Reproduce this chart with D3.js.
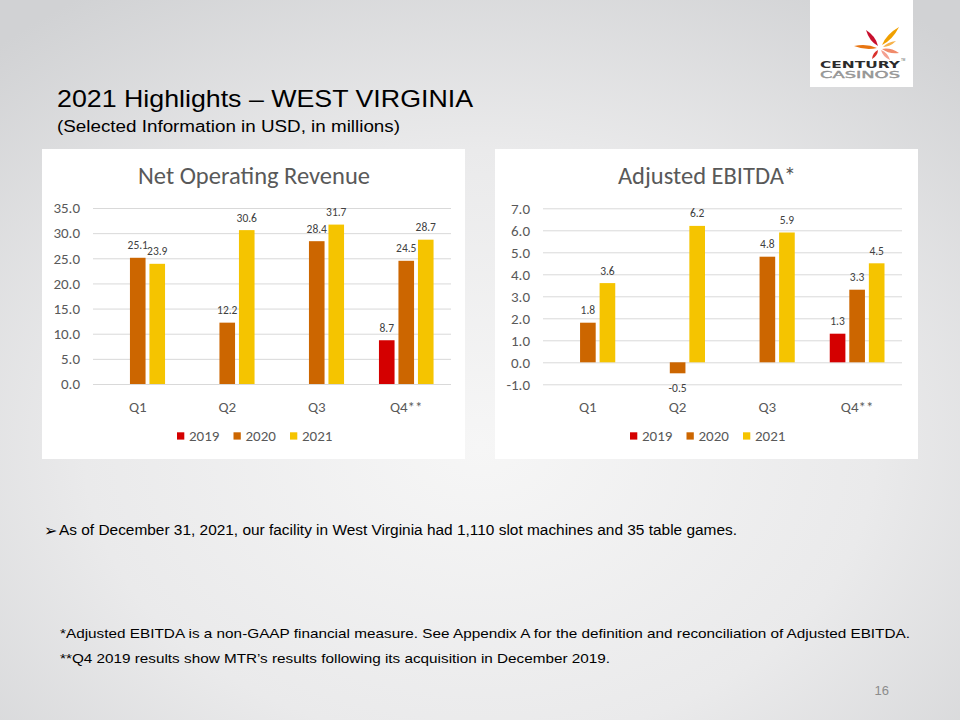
<!DOCTYPE html>
<html>
<head>
<meta charset="utf-8">
<script src="https://cdn.jsdelivr.net/npm/d3@7"></script>
<style>
  html, body { margin: 0; padding: 0; background: #e6e7e8; }
  svg { display: block; }
</style>
</head>
<body>
<svg id="slide" width="960" height="720"></svg>
<script>
// ---------- DATA ----------
const quarters = ["Q1", "Q2", "Q3", "Q4**"];
const seriesNames = ["2019", "2020", "2021"];
const revenue2019 = [null, null, null, 8.7];
const revenue2020 = [25.1, 12.2, 28.4, 24.5];
const revenue2021 = [23.9, 30.6, 31.7, 28.7];
const ebitda2019 = [null, null, null, 1.3];
const ebitda2020 = [1.8, -0.5, 4.8, 3.3];
const ebitda2021 = [3.6, 6.2, 5.9, 4.5];
const revenueTicks = [0, 5, 10, 15, 20, 25, 30, 35];
const ebitdaTicks = [-1, 0, 1, 2, 3, 4, 5, 6, 7];
const seriesColors = ["#d40000", "#cc6600", "#f5c400"];

const svg = d3.select("#slide");
const fmt = d => d.toFixed(1);

// ---------- BACKGROUND ----------
const defs = svg.append("defs");
const rg = defs.append("radialGradient").attr("id", "bg")
  .attr("cx", "0.5").attr("cy", "0.62").attr("r", "0.75");
rg.append("stop").attr("offset", "0").attr("stop-color", "#f6f6f6");
rg.append("stop").attr("offset", "0.55").attr("stop-color", "#eaeaeb");
rg.append("stop").attr("offset", "1").attr("stop-color", "#d1d2d4");
svg.append("rect").attr("width", 960).attr("height", 720).attr("fill", "url(#bg)");

// ---------- LOGO ----------
const logo = svg.append("g");
logo.append("rect").attr("x", 810).attr("y", 0).attr("width", 103).attr("height", 87).attr("fill", "#ffffff");
const petals = [
  { x1: 878, y1: 46, x2: 866, y2: 30, w: 4.2, c: "#c8102e" },
  { x1: 882, y1: 45, x2: 899, y2: 27, w: 4.2, c: "#f0a000" },
  { x1: 877, y1: 48, x2: 854, y2: 46, w: 3.8, c: "#e87511" },
  { x1: 882, y1: 49, x2: 899, y2: 53, w: 3.6, c: "#f08a6a" },
  { x1: 881, y1: 50, x2: 890, y2: 60, w: 3.2, c: "#f4a090" },
  { x1: 878, y1: 50, x2: 872, y2: 59, w: 3.0, c: "#d9302a" },
  { x1: 883, y1: 47, x2: 896, y2: 41, w: 2.8, c: "#f6b24a" }
];
petals.forEach(p => {
  const dx = p.x2 - p.x1, dy = p.y2 - p.y1;
  const len = Math.sqrt(dx * dx + dy * dy);
  const ang = Math.atan2(dy, dx) * 180 / Math.PI;
  logo.append("path")
    .attr("transform", `translate(${p.x1},${p.y1}) rotate(${ang})`)
    .attr("d", `M0,0 Q${len * 0.45},${-p.w} ${len},0 Q${len * 0.45},${p.w} 0,0 Z`)
    .attr("fill", p.c);
});
logo.append("text").attr("x", 860).attr("y", 67.5).attr("text-anchor", "middle")
  .attr("font-family", "'DejaVu Sans', sans-serif").attr("font-weight", "bold")
  .attr("font-size", 8.5).attr("textLength", 80).attr("lengthAdjust", "spacingAndGlyphs")
  .attr("fill", "#2b2b2b").text("CENTURY");
logo.append("text").attr("x", 901).attr("y", 61).attr("font-family", "'Liberation Sans', sans-serif")
  .attr("font-size", 3).attr("fill", "#555").text("TM");
logo.append("text").attr("x", 860).attr("y", 77.5).attr("text-anchor", "middle")
  .attr("font-family", "'DejaVu Sans', sans-serif")
  .attr("font-size", 8.5).attr("textLength", 80).attr("lengthAdjust", "spacingAndGlyphs")
  .attr("fill", "#a0a0a0").attr("stroke", "#8a8a8a").attr("stroke-width", 0.3).text("CASINOS");

// ---------- HEADINGS ----------
svg.append("text").attr("x", 57).attr("y", 107)
  .attr("font-family", "'Liberation Sans', Arial, sans-serif").attr("font-size", 24)
  .attr("textLength", 416).attr("lengthAdjust", "spacingAndGlyphs")
  .attr("fill", "#000").text("2021 Highlights – WEST VIRGINIA");
svg.append("text").attr("x", 57).attr("y", 132)
  .attr("font-family", "'Liberation Sans', Arial, sans-serif").attr("font-size", 16)
  .attr("textLength", 343).attr("lengthAdjust", "spacingAndGlyphs")
  .attr("fill", "#000").text("(Selected Information in USD, in millions)");

// ---------- CHART FUNCTION ----------
const chartFont = "Carlito, Calibri, Lato, 'Noto Sans', sans-serif";

function drawChart(opt) {
  const g = svg.append("g");
  g.append("rect").attr("x", opt.px).attr("y", opt.py).attr("width", 423).attr("height", 310)
    .attr("fill", "#ffffff");

  g.append("text").attr("x", opt.px + opt.titleX).attr("y", opt.py + 35)
    .attr("text-anchor", "middle").attr("font-family", chartFont).attr("font-size", 24.5)
    .attr("fill", "#595959").text(opt.title);

  const x0 = d3.scaleBand().domain(quarters).range([opt.x0, opt.x1]).paddingInner(0).paddingOuter(0);
  const bw = x0.bandwidth();
  const groupW = bw * 0.61;
  const x1 = d3.scaleBand().domain(seriesNames)
    .range([(bw - groupW) / 2, (bw + groupW) / 2]).paddingInner(0.2).paddingOuter(0);
  const y = d3.scaleLinear().domain(opt.domain).range([opt.yBottom, opt.yTop]);

  const axis = d3.axisLeft(y).tickValues(opt.ticks).tickFormat(fmt)
    .tickSize(-(opt.x1 - opt.x0)).tickPadding(13);
  const ax = g.append("g").attr("transform", `translate(${opt.x0},0)`).call(axis);
  ax.select(".domain").remove();
  ax.selectAll(".tick line").attr("stroke", "#d9d9d9").attr("stroke-width", 1);
  ax.selectAll(".tick text").attr("font-family", chartFont).attr("font-size", 15)
    .attr("fill", "#595959");

  const rows = [];
  opt.series.forEach((vals, si) => {
    vals.forEach((v, qi) => {
      if (v !== null) rows.push({ q: quarters[qi], s: seriesNames[si], v: v, c: seriesColors[si] });
    });
  });

  g.selectAll("rect.bar").data(rows).enter().append("rect").attr("class", "bar")
    .attr("x", d => x0(d.q) + x1(d.s))
    .attr("width", x1.bandwidth())
    .attr("y", d => y(Math.max(0, d.v)))
    .attr("height", d => Math.abs(y(d.v) - y(0)))
    .attr("fill", d => d.c);

  g.selectAll("text.lbl").data(rows).enter().append("text").attr("class", "lbl")
    .attr("x", d => x0(d.q) + x1(d.s) + x1.bandwidth() / 2)
    .attr("y", d => d.v >= 0 ? y(d.v) - 8.5 : y(d.v) + 18.5)
    .attr("text-anchor", "middle").attr("font-family", chartFont).attr("font-size", 11.5)
    .attr("fill", "#404040").text(d => fmt(d.v));

  g.selectAll("text.cat").data(quarters).enter().append("text").attr("class", "cat")
    .attr("x", d => x0(d) + bw / 2).attr("y", 412)
    .attr("text-anchor", "middle").attr("font-family", chartFont).attr("font-size", 15)
    .attr("fill", "#595959").text(d => d);

  const lg = g.selectAll("g.leg").data(seriesNames).enter().append("g").attr("class", "leg")
    .attr("transform", (d, i) => `translate(${opt.px + 135 + i * 56.5},436)`);
  lg.append("rect").attr("x", 0).attr("y", -3.7).attr("width", 7.3).attr("height", 7.3)
    .attr("fill", (d, i) => seriesColors[i]);
  lg.append("text").attr("x", 12).attr("y", 5).attr("font-family", chartFont).attr("font-size", 15)
    .attr("fill", "#595959").text(d => d);
}

drawChart({
  px: 42, py: 149, title: "Net Operating Revenue", titleX: 212,
  x0: 93, x1: 451, yTop: 208, yBottom: 384, domain: [0, 35], ticks: revenueTicks,
  series: [revenue2019, revenue2020, revenue2021]
});
drawChart({
  px: 495, py: 149, title: "Adjusted EBITDA*", titleX: 212,
  x0: 543, x1: 902, yTop: 208.3, yBottom: 384.3, domain: [-1, 7], ticks: ebitdaTicks,
  series: [ebitda2019, ebitda2020, ebitda2021]
});

// ---------- TEXT BLOCKS ----------
svg.append("text").attr("x", 44).attr("y", 536)
  .attr("font-family", "'DejaVu Sans', sans-serif").attr("font-size", 16)
  .attr("fill", "#000").text("➢");
svg.append("text").attr("x", 59).attr("y", 535)
  .attr("font-family", "'Liberation Sans Narrow', 'Liberation Sans', Arial, sans-serif").attr("font-size", 14)
  .attr("textLength", 678).attr("lengthAdjust", "spacingAndGlyphs")
  .attr("fill", "#000").text("As of December 31, 2021, our facility in West Virginia had 1,110 slot machines and 35 table games.");

svg.append("text").attr("x", 60).attr("y", 638)
  .attr("font-family", "'Liberation Sans Narrow', 'Liberation Sans', Arial, sans-serif").attr("font-size", 13.5)
  .attr("textLength", 850).attr("lengthAdjust", "spacingAndGlyphs")
  .attr("fill", "#000").text("*Adjusted EBITDA is a non-GAAP financial measure. See Appendix A for the definition and reconciliation of Adjusted EBITDA.");
svg.append("text").attr("x", 60).attr("y", 663)
  .attr("font-family", "'Liberation Sans Narrow', 'Liberation Sans', Arial, sans-serif").attr("font-size", 13.5)
  .attr("textLength", 550).attr("lengthAdjust", "spacingAndGlyphs")
  .attr("fill", "#000").text("**Q4 2019 results show MTR’s results following its acquisition in December 2019.");

svg.append("text").attr("x", 889).attr("y", 695).attr("text-anchor", "end")
  .attr("font-family", "'Liberation Sans Narrow', 'Liberation Sans', Arial, sans-serif").attr("font-size", 13)
  .attr("fill", "#8c8c8c").text("16");
</script>
</body>
</html>
